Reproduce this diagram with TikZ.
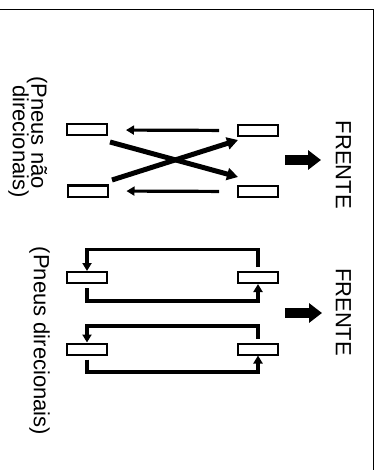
\documentclass[tikz,border=0pt]{standalone}
\usepackage{fontspec}
\setmainfont{Liberation Sans}
\usetikzlibrary{arrows.meta}
\begin{document}
\begin{tikzpicture}[x=1pt,y=-1pt,
  tire/.style={draw, line width=2pt, minimum width=40pt, minimum height=11pt, inner sep=0pt, fill=white},
  mv/.style={line width=3.2pt, line join=miter, -{Triangle[length=8pt,width=9pt]}},
  cross/.style={line width=5pt, -{Triangle[length=11pt,width=12pt]}},
  lbl/.style={font=\fontsize{22}{22}\selectfont, rotate=-90, inner sep=0pt},
  big/.style={line width=10pt, -{Triangle[length=13pt,width=19pt]}},
  frame/.style={line width=1.6pt}]
\useasboundingbox (0,0) rectangle (383,470);
% frame
\draw[frame] (0,9.5) -- (373.5,9.5) -- (373.5,470);
% diagram 1
\node[tire] (tl) at (87,130) {};
\node[tire] (tr) at (258,130.5) {};
\node[tire] (bl) at (87.5,191) {};
\node[tire] (br) at (258,191.5) {};
\draw[mv, shorten <=18pt, shorten >=18pt] (tr.west) -- (tl.east);
\draw[mv, shorten <=18pt, shorten >=18pt] (br.west) -- (bl.east);
\coordinate (c1s) at (110,142);
\coordinate (c1e) at (238,177);
\coordinate (c2s) at (112,180);
\coordinate (c2e) at (238,140);
\draw[cross] (c1s) -- (c1e);
\draw[cross] (c2s) -- (c2e);
\coordinate (a1s) at (285,160);
\coordinate (a1e) at (321,160);
\draw[big] (a1s) -- (a1e);
\node[lbl] (f1) at (343.5,165) {FRENTE};
\node[lbl] (n1) at (37,132.5) {(Pneus não};
\node[lbl] (n2) at (18.5,141.5) {direcionais)};
% diagram 2
\node[tire] (l1) at (87,277.5) {};
\node[tire] (r1) at (258,277.5) {};
\node[tire] (l2) at (87,349) {};
\node[tire] (r2) at (258,349) {};
\draw[mv] ([yshift=4pt]r1.north) -- ([yshift=21.5pt]r1.north) -| (l1.north);
\draw[mv] ([yshift=-4pt]l1.south) -- ([yshift=-17pt]l1.south) -| (r1.south);
\draw[mv] ([yshift=4pt]r2.north) -- ([yshift=16.5pt]r2.north) -| (l2.north);
\draw[mv] ([yshift=-4pt]l2.south) -- ([yshift=-16.5pt]l2.south) -| (r2.south);
\coordinate (a2s) at (285,313);
\coordinate (a2e) at (322,313);
\draw[big] (a2s) -- (a2e);
\node[lbl] (f2) at (343.5,312) {FRENTE};
\node[lbl] (d1) at (39.5,341) {(Pneus direcionais)};
\end{tikzpicture}
\end{document}
